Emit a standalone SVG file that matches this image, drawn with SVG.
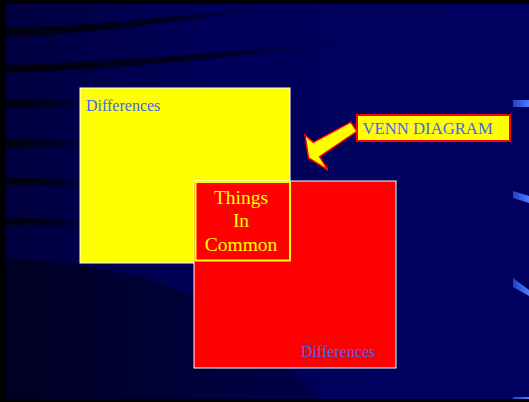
<svg xmlns="http://www.w3.org/2000/svg" width="529" height="402" viewBox="0 0 529 402">
<defs>
<linearGradient id="bg" x1="0" y1="0" x2="1" y2="0">
<stop offset="0" stop-color="#000040"/>
<stop offset="0.4" stop-color="#00005a"/>
<stop offset="1" stop-color="#000062"/>
</linearGradient>
<linearGradient id="stripe" x1="0" y1="0" x2="1" y2="0">
<stop offset="0" stop-color="#000010" stop-opacity="1"/>
<stop offset="0.6" stop-color="#000018" stop-opacity="0.8"/>
<stop offset="1" stop-color="#000030" stop-opacity="0"/>
</linearGradient>
<linearGradient id="dash" x1="0" y1="0" x2="1" y2="0">
<stop offset="0" stop-color="#2040c0"/>
<stop offset="1" stop-color="#4d7cff"/>
</linearGradient>
<linearGradient id="dark" x1="0" y1="0" x2="1" y2="0">
<stop offset="0" stop-color="#000022"/>
<stop offset="1" stop-color="#00004a"/>
</linearGradient>
<style>
.diff{font-family:"Liberation Serif","Times New Roman",serif;font-size:16px;fill:#4466ee}
.common{font-family:"Liberation Serif","Times New Roman",serif;font-size:19.5px;fill:#ffff00;text-anchor:middle}
.set{stroke:#ffffff;stroke-width:1}
</style>
</defs>
<rect x="0" y="0" width="529" height="402" fill="#000000"/>
<rect x="6" y="4" width="523" height="395" fill="url(#bg)"/>
<g id="background">
<path d="M6,258 C80,262 150,275 200,300 C240,320 280,350 320,399 L6,399 Z" fill="url(#dark)"/>
<path d="M6,28 C90,26 180,16 280,5 L280,9 C180,20 90,35 6,37 Z" fill="url(#stripe)"/>
<path d="M6,65 C120,62 240,50 340,42 L340,46 C240,55 120,70 6,73 Z" fill="url(#stripe)"/>
<path d="M6,100 C40,100 70,101 90,101 L90,106 C70,107 40,107 6,108 Z" fill="url(#stripe)"/>
<path d="M6,139 C40,139 70,140 90,141 L90,146 C70,147 40,147 6,147 Z" fill="url(#stripe)"/>
<path d="M6,178 C40,178 70,179 90,180 L90,186 C70,186 40,186 6,185 Z" fill="url(#stripe)"/>
<path d="M6,217 C40,218 70,220 90,221 L90,227 C70,226 40,225 6,225 Z" fill="url(#stripe)"/>
<path d="M513,100 L529,100 L529,107 L513,107 Z" fill="url(#dash)"/>
<path d="M513,191 L529,196 L529,203 L513,198 Z" fill="url(#dash)"/>
<path d="M513,278 L529,290 L529,296 L513,287 Z" fill="url(#dash)"/>
<path d="M513,397 L529,397 L529,399 L513,399 Z" fill="url(#dash)"/>
</g>
<g id="set-yellow">
<rect class="set" x="80" y="88" width="210" height="175" fill="#ffff00"/>
<text class="diff" x="86" y="111">Differences</text>
</g>
<g id="set-red">
<rect class="set" x="194" y="181" width="202" height="187" fill="#ff0000"/>
<text class="diff" x="301" y="357">Differences</text>
</g>
<g id="intersection">
<rect x="195.5" y="182" width="94.5" height="78.5" fill="#ff0000" stroke="#ffff00" stroke-width="2"/>
<text class="common" x="241" y="204">Things</text>
<text class="common" x="241" y="227">In</text>
<text class="common" x="241" y="251">Common</text>
</g>
<g id="label">
<rect x="357" y="115" width="153" height="26" fill="#ffff00" stroke="#ff0000" stroke-width="2"/>
<text class="diff" x="362.5" y="134" style="font-size:16.7px">VENN DIAGRAM</text>
</g>
<g id="connectors">
<polygon points="308.5,158 328,170 319.6,156.6 357,131.4 350.8,122.2 313.4,142.4 305,135" fill="#ffff00" stroke="#ff0000" stroke-width="1.5" stroke-linejoin="miter"/>
</g>
</svg>
